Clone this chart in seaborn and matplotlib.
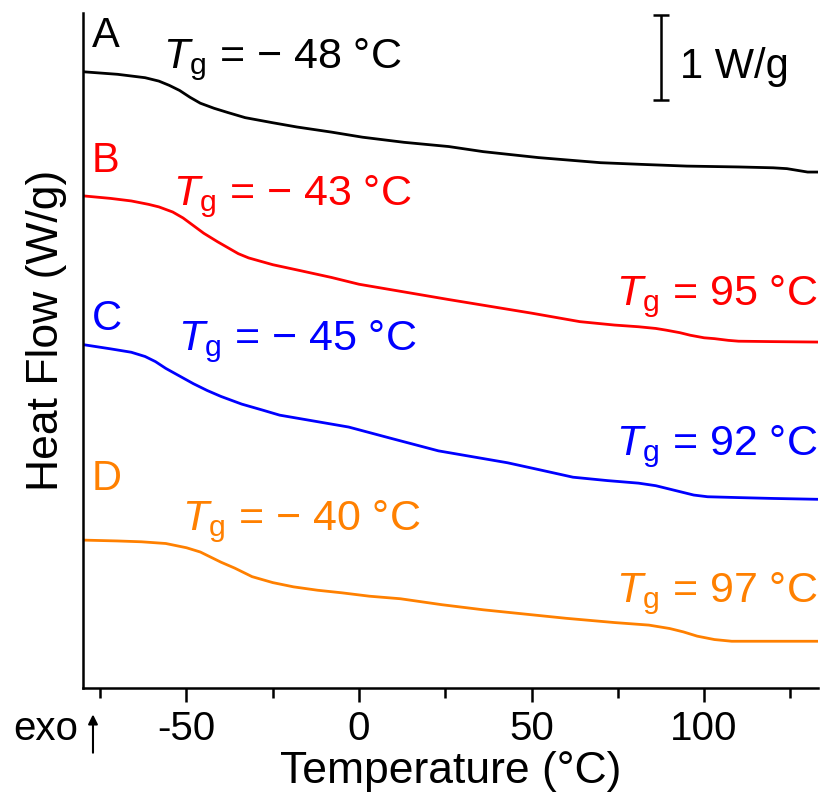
import numpy as np
import pandas as pd
import matplotlib
matplotlib.use('Agg')
import matplotlib.pyplot as plt
import seaborn as sns

# DSC traces (temperature in C, heat flow in W/g, offset)
temp_a = [-80, -70, -62, -58, -55, -52, -49, -46, -42, -38, -33, -25, -18, -8, 1, 13, 26, 36, 52, 70, 82, 95, 110, 120, 124, 127, 130, 133]
flow_a = [7.25, 7.22, 7.18, 7.14, 7.09, 7.03, 6.95, 6.88, 6.82, 6.77, 6.71, 6.65, 6.60, 6.54, 6.48, 6.42, 6.37, 6.31, 6.24, 6.18, 6.16, 6.14, 6.13, 6.12, 6.11, 6.09, 6.07, 6.07]

temp_b = [-80, -72, -66, -61, -58, -54, -51, -48, -45, -41, -38, -35, -32, -25, -17, -8, 0, 13, 26, 38, 50, 64, 74, 81, 86, 89, 93, 96, 100, 103, 107, 110, 120, 133]
flow_b = [5.79, 5.76, 5.73, 5.69, 5.66, 5.60, 5.53, 5.44, 5.35, 5.25, 5.18, 5.11, 5.06, 4.98, 4.91, 4.83, 4.75, 4.66, 4.57, 4.49, 4.41, 4.31, 4.27, 4.25, 4.23, 4.21, 4.18, 4.15, 4.12, 4.11, 4.09, 4.08, 4.075, 4.07]

temp_c = [-80, -72, -66, -62, -59, -56, -52, -48, -44, -40, -34, -28, -23, -13, -3, 9, 23, 33, 43, 52, 62, 72, 81, 86, 89, 93, 97, 101, 110, 120, 133]
flow_c = [4.04, 3.99, 3.95, 3.90, 3.84, 3.76, 3.67, 3.58, 3.50, 3.43, 3.34, 3.27, 3.21, 3.14, 3.07, 2.94, 2.79, 2.72, 2.65, 2.57, 2.48, 2.44, 2.41, 2.38, 2.35, 2.31, 2.27, 2.25, 2.24, 2.23, 2.22]

temp_d = [-80, -70, -63, -56, -50, -46, -43, -40, -36, -33, -31, -25, -19, -12, -5, 3, 12, 24, 36, 48, 60, 74, 84, 87, 90, 94, 98, 103, 108, 120, 133]
flow_d = [1.74, 1.73, 1.72, 1.70, 1.65, 1.60, 1.54, 1.48, 1.41, 1.35, 1.31, 1.24, 1.19, 1.15, 1.12, 1.08, 1.05, 0.98, 0.92, 0.87, 0.82, 0.77, 0.74, 0.72, 0.70, 0.66, 0.61, 0.57, 0.55, 0.55, 0.55]

samples = ['A', 'B', 'C', 'D']
colors = ['black', '#ff0000', '#0000ff', '#ff8000']

tg_low = ['\u2212 48', '\u2212 43', '\u2212 45', '\u2212 40']
tg_high = [None, '95', '92', '97']

df = pd.concat([
    pd.DataFrame({'T': temp_a, 'HF': flow_a, 'sample': 'A'}),
    pd.DataFrame({'T': temp_b, 'HF': flow_b, 'sample': 'B'}),
    pd.DataFrame({'T': temp_c, 'HF': flow_c, 'sample': 'C'}),
    pd.DataFrame({'T': temp_d, 'HF': flow_d, 'sample': 'D'}),
])

sns.set_style('ticks')
plt.rcParams['font.family'] = ['Liberation Sans', 'DejaVu Sans']
plt.rcParams['mathtext.fontset'] = 'custom'
plt.rcParams['mathtext.rm'] = 'Liberation Sans'
plt.rcParams['mathtext.it'] = 'Liberation Sans:italic'
plt.rcParams['text.color'] = 'black'
plt.rcParams['axes.labelcolor'] = 'black'
plt.rcParams['xtick.color'] = 'black'
plt.rcParams['axes.unicode_minus'] = False

fig = plt.figure(figsize=(8.24, 7.94), dpi=100)
ax = fig.add_axes([0.1007, 0.1335, 0.892, 0.850])

sns.lineplot(data=df, x='T', y='HF', hue='sample', palette=colors,
             linewidth=2.0, legend=False, ax=ax)

ax.set_xlim(-80, 133)
ax.set_ylim(0, 7.94)
ax.set_xticks([-50, 0, 50, 100])
ax.set_xticks([-75, -25, 25, 75, 125], minor=True)
ax.set_yticks([])
ax.tick_params(axis='x', which='major', length=10, width=1.8, labelsize=29, pad=6)
ax.tick_params(axis='x', which='minor', length=7, width=1.8)
for s in ['left', 'bottom']:
    ax.spines[s].set_linewidth(1.8)
    ax.spines[s].set_color('black')
sns.despine(ax=ax)
ax.set_xlabel('Temperature (\u00b0C)', fontsize=32, labelpad=2)
ax.set_ylabel('Heat Flow (W/g)', fontsize=32)
ax.yaxis.set_label_coords(-0.022, 0.53)

# sample letters and Tg labels
letter_y = [7.54, 6.07, 4.21, 2.33]
low_x = [-56.8, -53.9, -52.5, -51.3]
low_y = [7.29, 5.68, 3.98, 1.86]
high_y = [None, 4.51, 2.74, 1.01]
for i in range(4):
    ax.text(-77.4, letter_y[i], samples[i], color=colors[i], fontsize=30, va='baseline')
    ax.text(low_x[i], low_y[i], '$T_\\mathrm{g}$ = ' + tg_low[i] + ' \u00b0C',
            color=colors[i], fontsize=31, va='baseline')
    if tg_high[i]:
        ax.text(133, high_y[i], '$T_\\mathrm{g}$ = ' + tg_high[i] + ' \u00b0C',
                color=colors[i], fontsize=31, va='baseline', ha='right')

# 1 W/g scale bar
ax.errorbar(87.6, 7.42, yerr=0.5, fmt='none', ecolor='black', elinewidth=1.8,
            capsize=6, capthick=1.8)
ax.text(93, 7.18, '1 W/g', fontsize=30, va='baseline')

# exo arrow
trans = ax.get_xaxis_transform()
ax.annotate('', xy=(-77.1, -0.035), xytext=(-77.1, -0.1), xycoords=trans,
            textcoords=trans, annotation_clip=False,
            arrowprops=dict(arrowstyle='-|>', color='black', lw=1.5, mutation_scale=14))
ax.text(-81.5, -0.077, 'exo', transform=trans, fontsize=29, ha='right', va='baseline')

fig.savefig('out.png', dpi=100)
